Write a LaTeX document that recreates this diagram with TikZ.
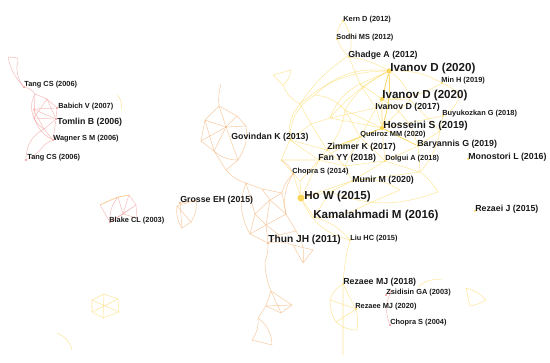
\documentclass[tikz,border=0pt]{standalone}
\usepackage{fontspec}
\setmainfont{Liberation Sans}
\usepackage{xcolor}
\usepackage{tikz}
\definecolor{yelw}{RGB}{250,214,90}
\definecolor{orng}{RGB}{243,170,105}
\definecolor{redd}{RGB}{240,145,145}
\definecolor{txt}{RGB}{25,25,25}
\tikzset{
  lab/.style={anchor=west,inner sep=0pt,text=txt,font=\bfseries\fontsize{4.2}{5}\selectfont},
  labm/.style={lab,font=\bfseries\fontsize{5}{6}\selectfont},
  labb/.style={lab,font=\bfseries\fontsize{5.8}{7}\selectfont},
  labh/.style={lab,font=\bfseries\fontsize{6.6}{8}\selectfont},
  dot/.style={circle,inner sep=0pt,minimum size=1.4pt,fill=#1},
  ye/.style={draw=yelw,line width=0.3pt,opacity=0.6},
  ys/.style={draw=yelw,line width=0.5pt,opacity=0.9},
  oe/.style={draw=orng,line width=0.3pt,opacity=0.6},
  re/.style={draw=redd,line width=0.3pt,opacity=0.6}
}
\begin{document}
\begin{tikzpicture}[x=0.02cm, y=-0.02cm]
  \useasboundingbox (0,0) rectangle (550,362);

  % papers
  \node[dot=redd] (tangA) at (24,87) {};
  \node[dot=redd] (babich) at (57,108) {};
  \node[dot=redd] (tomlin) at (56,119) {};
  \node[dot=redd] (wagner) at (53,140) {};
  \node[dot=redd] (tangB) at (26,160) {};
  \node[dot=orng] (govindan) at (226,127) {};
  \node[dot=orng] (grosse) at (180,203) {};
  \node[dot=redd] (blake) at (110,222) {};
  \node[dot=orng] (thun) at (268,243) {};
  \node[dot=yelw] (kern) at (343,21) {};
  \node[dot=yelw] (sodhi) at (337,39) {};
  \node[dot=yelw] (ghadge) at (349,57) {};
  \node[dot=yelw,minimum size=3pt] (ivanovA) at (389,71) {};
  \node[dot=yelw] (minh) at (442,83) {};
  \node[dot=yelw,minimum size=2.5pt] (ivanovB) at (382,99) {};
  \node[dot=yelw] (ivanovC) at (376,108) {};
  \node[dot=yelw] (buyuk) at (443,116) {};
  \node[dot=yelw,minimum size=2.5pt] (hosseini) at (382,128) {};
  \node[dot=yelw] (queiroz) at (360,137) {};
  \node[dot=yelw] (baryannis) at (418,146) {};
  \node[dot=yelw] (zimmer) at (327,150) {};
  \node[dot=yelw] (fanyy) at (319,160) {};
  \node[dot=yelw] (dolgui) at (385,161) {};
  \node[dot=yelw] (monostori) at (468,159) {};
  \node[dot=orng] (chopraA) at (293,174) {};
  \node[dot=yelw] (munir) at (352,181) {};
  \node[dot=yelw,minimum size=4pt] (how) at (301,198) {};
  \node[dot=yelw] (kamal) at (314,217) {};
  \node[dot=yelw] (rezaei) at (475,211) {};
  \node[dot=yelw] (liuhc) at (350,240) {};
  \node[dot=yelw] (rezaeeA) at (343,284) {};
  \node[dot=redd] (zsidisin) at (386,295) {};
  \node[dot=yelw] (rezaeeB) at (356,309) {};
  \node[dot=redd] (chopraB) at (390,325) {};

  % hubs
  \coordinate (r1) at (8,57);   \coordinate (r2) at (18,58);  \coordinate (r3) at (17,66);
  \coordinate (r4) at (35,94);  \coordinate (r5) at (47,99);  \coordinate (r6) at (34,118);
  \coordinate (r7) at (44,129); \coordinate (r8) at (40,150); \coordinate (r9) at (33,109);
  \coordinate (g1) at (221,84); \coordinate (g2) at (219,106); \coordinate (g3) at (205,120);
  \coordinate (g4) at (201,141); \coordinate (g5) at (214,151); \coordinate (g6) at (237,116);
  \coordinate (g7) at (246,126); \coordinate (g8) at (238,160); \coordinate (g9) at (226,170);
  \coordinate (c1) at (246,183); \coordinate (c2) at (262,189); \coordinate (c3) at (270,200);
  \coordinate (c4) at (282,193); \coordinate (c5) at (255,214); \coordinate (c6) at (266,225);
  \coordinate (c7) at (286,214); \coordinate (c8) at (296,231); \coordinate (c9) at (279,235);
  \coordinate (c10) at (250,234);
  \coordinate (d1) at (271,291); \coordinate (d2) at (292,305); \coordinate (d3) at (281,313);
  \coordinate (d4) at (266,306); \coordinate (d5) at (258,318); \coordinate (d6) at (252,340);
  \coordinate (d7) at (272,345); \coordinate (d8) at (265,262);
  \coordinate (e1) at (293,245); \coordinate (e2) at (313,250); \coordinate (e3) at (303,263);
  \coordinate (y1) at (300,104); \coordinate (y2) at (311,124); \coordinate (y3) at (290,140);
  \coordinate (y4) at (281,160); \coordinate (y5) at (300,181); \coordinate (y6) at (330,192);
  \coordinate (y7) at (345,166); \coordinate (y8) at (420,172); \coordinate (y9) at (438,192);
  \coordinate (y10) at (440,131); \coordinate (y11) at (410,100); \coordinate (y12) at (360,84);
  \coordinate (y13) at (273,75); \coordinate (y14) at (291,70); \coordinate (y15) at (283,85);
  \coordinate (y16) at (330,118); \coordinate (y17) at (460,95); \coordinate (y18) at (345,110);
  \coordinate (y19) at (315,95); \coordinate (y20) at (400,190); \coordinate (y21) at (365,205);
  \coordinate (b1) at (118,197); \coordinate (b2) at (129,195); \coordinate (b3) at (136,205);
  \coordinate (b4) at (137,218); \coordinate (b5) at (123,214); \coordinate (b7) at (100,205);
  \coordinate (s1) at (177,206); \coordinate (s2) at (196,200); \coordinate (s3) at (191,222);
  \coordinate (s4) at (182,228);
  \coordinate (l1) at (92,300); \coordinate (l2) at (104,294); \coordinate (l3) at (118,299);
  \coordinate (l4) at (119,312); \coordinate (l5) at (103,318); \coordinate (l6) at (92,312);
  \coordinate (l7) at (57,333); \coordinate (l8) at (72,350);
  \coordinate (k1) at (330,300); \coordinate (k2) at (336,322); \coordinate (k3) at (357,330);
  \coordinate (k4) at (343,355); \coordinate (k5) at (392,290);
  \coordinate (z1) at (418,287); \coordinate (z2) at (442,280); \coordinate (z3) at (466,288);
  \coordinate (z4) at (486,300); \coordinate (z5) at (470,306); \coordinate (u1) at (117,95);
  \coordinate (u2) at (121,110);

  % red cluster
  \draw[re] (r1) -- (r2) to[bend left=10] (r3) to[bend right=20] (tangA);
  \draw[re] (r1) to[bend right=15] (tangA);
  \draw[re] (tangA) to[bend left=20] (r4) -- (r5) -- (babich) -- (tomlin) -- (r6) -- (r4);
  \draw[re] (r4) to[bend right=25] (r6) to[bend right=15] (r7) -- (tomlin) -- (r5);
  \draw[re] (r9) -- (babich) (r9) -- (tomlin) (r9) -- (r7) (r5) -- (r6);
  \draw[re] (r7) -- (wagner) -- (tomlin) (r6) to[bend right=20] (wagner);
  \draw[re] (wagner) to[bend right=15] (r8) to[bend left=10] (tangB);
  \draw[re] (r7) to[bend right=30] (tangB);
  \draw[ye] (u1) to[bend left=30] (u2);

  % blake and grosse
  \draw[re] (b7) -- (b1) -- (b2) -- (b3) -- (b4) -- (b5) -- (blake) -- (b7);
  \draw[re] (b1) -- (b5) -- (b3) (b2) -- (b5) (b1) to[bend right=20] (blake) (b3) -- (blake);
  \draw[ye] (b7) to[bend left=10] (b2);
  \draw[oe] (s1) -- (s2) to[bend left=20] (s3) -- (s4) to[bend left=20] (s1);
  \draw[oe] (s1) -- (s3) (grosse) -- (s2) (grosse) -- (s4);

  % govindan
  \draw[oe] (g1) to[bend right=10] (g2) -- (g3) -- (g4) -- (g5) -- (govindan) -- (g3);
  \draw[oe] (g2) -- (g6) -- (g7) -- (govindan) -- (g2) (g6) -- (govindan) (g4) -- (govindan);
  \draw[oe] (g3) -- (g5) (g5) to[bend right=20] (g8) -- (govindan) (g8) -- (g9) -- (g5);
  \draw[oe] (g7) to[bend left=20] (g8) (g9) to[bend right=15] (c1);

  % central orange
  \draw[oe] (c1) -- (c2) -- (c4) -- (c3) -- (c2) (c3) -- (c5) -- (c1) (c3) -- (c7) -- (c4);
  \draw[oe] (c5) -- (c6) -- (c7) -- (c8) -- (c9) -- (c6) -- (c10) -- (c5) (c9) -- (thun);
  \draw[oe] (c10) -- (thun) -- (c6) (c3) -- (c6) (c7) to[bend left=20] (chopraA);
  \draw[oe] (c4) to[bend left=15] (chopraA) (c1) to[bend right=25] (c10);
  \draw[oe] (thun) to[bend left=10] (d8) to[bend right=10] (d1);
  \draw[oe] (d1) -- (d2) -- (d3) -- (d4) -- (d1) -- (d3) (d4) -- (d2);
  \draw[oe] (d4) -- (d5) to[bend left=20] (d6) -- (d7) to[bend right=25] (d5);
  \draw[oe] (thun) to[bend left=15] (e1) -- (e2) -- (e3) -- (e1) (e3) to[bend right=20] (c8);
  \draw[oe] (chopraA) to[bend right=20] (y4);

  % yellow cluster
  \draw[ye] (kern) to[bend right=20] (sodhi) to[bend right=15] (ghadge) to[bend right=10] (y1);
  \draw[ye] (ghadge) to[bend left=10] (ivanovA) (kern) to[bend left=25] (ghadge);
  \draw[ye] (y13) -- (y14) to[bend left=20] (y15) -- (y13) (y15) to[bend right=20] (y1);
  \draw[ys] (ivanovA) -- (ivanovB) (ivanovA) to[bend left=10] (hosseini) (ivanovB) -- (hosseini);
  \draw[ye] (ivanovA) to[bend left=15] (minh) (ivanovA) -- (y12);
  \draw[ye] (ivanovA) to[bend right=20] (y1) (ivanovA) to[bend left=20] (y11) (ivanovA) to[bend right=10] (y16);
  \draw[ye] (ivanovA) to[bend right=15] (y18) (ivanovA) to[bend right=25] (y19) (minh) to[bend left=10] (y17) to[bend left=20] (buyuk);
  \draw[ye] (minh) to[bend left=15] (ivanovB) (y11) -- (ivanovB) -- (ivanovC) -- (hosseini);
  \draw[ye] (y12) -- (ivanovB) (y12) to[bend right=20] (y16) (y16) -- (hosseini) (y16) -- (ivanovC);
  \draw[ye] (y1) -- (y2) -- (y16) (y2) -- (y3) -- (y4) -- (y5) -- (how) (y2) -- (zimmer);
  \draw[ye] (y1) to[bend right=25] (y3) (y3) -- (zimmer) -- (fanyy) -- (y4) (y3) -- (fanyy);
  \draw[ys] (hosseini) -- (queiroz) -- (zimmer) (hosseini) -- (baryannis);
  \draw[ye] (baryannis) -- (dolgui) -- (queiroz) (y19) to[bend right=30] (y3) (y18) to[bend left=15] (zimmer);
  \draw[ye] (hosseini) -- (buyuk) -- (y10) -- (baryannis) (y10) to[bend left=15] (y8);
  \draw[ye] (hosseini) -- (dolgui) (queiroz) -- (fanyy) (dolgui) -- (y7) -- (munir) -- (dolgui);
  \draw[ye] (y7) -- (fanyy) (y7) -- (queiroz) (zimmer) -- (y7) (fanyy) -- (how) (munir) -- (how);
  \draw[ye] (munir) -- (y6) -- (how) (y6) -- (kamal) -- (how) -- (chopraA) (y5) -- (fanyy);
  \draw[ye] (y8) -- (baryannis) (y8) -- (dolgui) (y8) -- (munir) (y8) to[bend left=10] (y9);
  \draw[ye] (y9) to[bend left=20] (y6) (ivanovC) -- (queiroz) (ivanovB) to[bend left=20] (baryannis);
  \draw[ye] (y11) -- (y10) (y11) -- (hosseini) (y12) -- (ivanovC) (how) to[bend right=25] (liuhc);
  \draw[ye] (kamal) to[bend left=15] (liuhc) (ghadge) -- (y12) (munir) to[bend left=20] (y20) -- (y21) to[bend left=15] (kamal);
  \draw[ye] (y18) -- (hosseini) (y18) -- (queiroz) (y19) to[bend left=20] (y18);

  % lower parts
  \draw[ye] (liuhc) to[bend right=5] (rezaeeA);
  \draw[ye] (rezaeeA) to[bend right=20] (k1) to[bend right=15] (k2) to[bend right=20] (k3) to[bend right=10] (rezaeeB) -- (rezaeeA);
  \draw[ye] (k1) -- (rezaeeB) (rezaeeA) -- (k4) (k2) -- (rezaeeB);
  \draw[re] (k5) to[bend right=25] (chopraB) (zsidisin) -- (k5);
  \draw[ye] (z1) to[bend left=25] (z2) (z3) to[bend left=15] (z4) to[bend left=10] (z5) -- (z3);
  \draw[ye] (l1) -- (l2) -- (l3) -- (l4) -- (l5) -- (l6) -- (l1) (l2) -- (l5) (l1) -- (l4) (l3) -- (l6);
  \draw[ye] (l7) to[bend left=25] (l8);

  % labels
  \node[lab] (tangAl) at (24,85) {Tang CS (2006)};
  \node[lab] (babichl) at (58,107) {Babich V (2007)};
  \node[labm] (tomlinl) at (57,122) {Tomlin B (2006)};
  \node[lab] (wagnerl) at (53,139) {Wagner S M (2006)};
  \node[lab] (tangBl) at (27,158) {Tang CS (2006)};
  \node[labm] (govindanl) at (231,137) {Govindan K (2013)};
  \node[labm] (grossel) at (180,200) {Grosse EH (2015)};
  \node[lab] (blakel) at (109,221) {Blake CL (2003)};
  \node[labb] (thunl) at (268,240) {Thun JH (2011)};
  \node[lab] (kernl) at (343,20) {Kern D (2012)};
  \node[lab] (sodhil) at (336,38) {Sodhi MS (2012)};
  \node[labm] (ghadgel) at (348,55) {Ghadge A (2012)};
  \node[labh] (ivanovAl) at (390,68) {Ivanov D (2020)};
  \node[lab] (minhl) at (441,81) {Min H (2019)};
  \node[labh] (ivanovBl) at (382,95) {Ivanov D (2020)};
  \node[labm] (ivanovCl) at (375,107) {Ivanov D (2017)};
  \node[lab] (buyukl) at (442,114) {Buyukozkan G (2018)};
  \node[labb] (hosseinil) at (383,126) {Hosseini S (2019)};
  \node[lab] (queirozl) at (360,135) {Queiroz MM (2020)};
  \node[labm] (baryannisl) at (417,144) {Baryannis G (2019)};
  \node[labm] (zimmerl) at (327,147) {Zimmer K (2017)};
  \node[labm] (fanyyl) at (318,158) {Fan YY (2018)};
  \node[lab] (dolguil) at (385,159) {Dolgui A (2018)};
  \node[labm] (monostoril) at (468,157) {Monostori L (2016)};
  \node[lab] (chopraAl) at (292,172) {Chopra S (2014)};
  \node[labm] (munirl) at (352,180) {Munir M (2020)};
  \node[labh] (howl) at (304,196) {Ho W (2015)};
  \node[labh] (kamall) at (313,215) {Kamalahmadi M (2016)};
  \node[labm] (rezaeil) at (475,209) {Rezaei J (2015)};
  \node[lab] (liuhcl) at (350,239) {Liu HC (2015)};
  \node[labm] (rezaeeAl) at (343,282) {Rezaee MJ (2018)};
  \node[lab] (zsidisinl) at (386,293) {Zsidisin GA (2003)};
  \node[lab] (rezaeeBl) at (355,307) {Rezaee MJ (2020)};
  \node[lab] (chopraBl) at (390,323) {Chopra S (2004)};
\end{tikzpicture}
\end{document}
